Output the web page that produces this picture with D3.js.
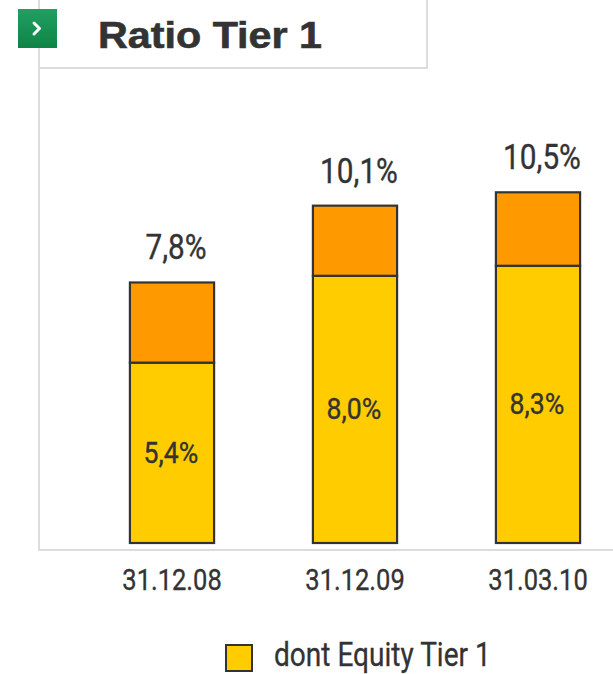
<!DOCTYPE html>
<html>
<head>
<meta charset="utf-8">
<script src="https://cdn.jsdelivr.net/npm/d3@7"></script>
<style>
  html, body { margin: 0; padding: 0; background: #fff; }
  svg { display: block; }
</style>
</head>
<body>
<svg id="chart" width="613" height="674"></svg>
<script>
// Tier 1 capital ratios, in percent
const categories = ["31.12.08", "31.12.09", "31.03.10"];
const equityTier1 = [5.4, 8.0, 8.3];   // dont Equity Tier 1
const totalTier1 = [7.8, 10.1, 10.5];  // ratio Tier 1 total
const titleText = "Ratio Tier 1";
const legendLabel = "dont Equity Tier 1";

const W = 613, H = 674;
const svg = d3.select("#chart");

// Pick a narrow face when one is installed; otherwise squeeze a regular one.
function measure(font) {
  const ctx = document.createElement("canvas").getContext("2d");
  ctx.font = font;
  return ctx.measureText("31.12.08 dont Equity").width;
}
const hasNarrow = measure("30px 'Liberation Sans Narrow', monospace") !== measure("30px monospace");
const narrowFamily = hasNarrow ? "'Liberation Sans Narrow', 'Arial Narrow', sans-serif" : "Roboto, sans-serif";
const squeeze = hasNarrow ? 1 : 0.85;
const innerSqueeze = hasNarrow ? 1 : 0.92;

const textColor = "#333333";
const frameColor = "#dcdcdc";
const orange = "#FF9900";
const yellow = "#FFCC00";
const edge = "#333333";

const fmt = v => d3.format(".1f")(v).replace(".", ",") + "%";

// Scales
const x = d3.scaleBand()
  .domain(categories)
  .range([80.5, 629.5])
  .paddingInner(0.54)
  .paddingOuter(0.27);

const y = d3.scaleLinear()
  .domain([0, 12])
  .range([543, 543 - 12 * 33.4]);

// Frame lines around the title and plot
const frame = svg.append("g").attr("stroke", frameColor).attr("stroke-width", 2).attr("fill", "none");
frame.append("line").attr("x1", 39).attr("y1", 0).attr("x2", 39).attr("y2", 550);
frame.append("line").attr("x1", 38).attr("y1", 550).attr("x2", W).attr("y2", 550);
frame.append("line").attr("x1", 39).attr("y1", 68).attr("x2", 428).attr("y2", 68);
frame.append("line").attr("x1", 427).attr("y1", 0).attr("x2", 427).attr("y2", 68);

// Title marker button
const defs = svg.append("defs");
const grad = defs.append("linearGradient").attr("id", "btnGrad")
  .attr("x1", 0).attr("y1", 0).attr("x2", 0).attr("y2", 1);
grad.append("stop").attr("offset", "0%").attr("stop-color", "#20a062");
grad.append("stop").attr("offset", "100%").attr("stop-color", "#0e8446");
svg.append("rect")
  .attr("x", 18).attr("y", 9).attr("width", 39).attr("height", 39)
  .attr("fill", "url(#btnGrad)");
svg.append("path")
  .attr("d", "M34,23 L39.5,28.5 L34,34")
  .attr("fill", "none").attr("stroke", "#ffffff")
  .attr("stroke-width", 3).attr("stroke-linecap", "round").attr("stroke-linejoin", "round");

// Title
svg.append("text")
  .attr("x", 98).attr("y", 48)
  .attr("font-family", "'Liberation Sans', Arial, sans-serif")
  .attr("font-weight", "bold")
  .attr("font-size", 36)
  .attr("textLength", 224)
  .attr("lengthAdjust", "spacingAndGlyphs")
  .attr("fill", textColor)
  .attr("stroke", textColor).attr("stroke-width", 0.6)
  .text(titleText);

// Bars
const rows = categories.map((c, i) => ({ cat: c, equity: equityTier1[i], total: totalTier1[i] }));
const bars = svg.append("g");

bars.selectAll("rect.equity")
  .data(rows).join("rect")
  .attr("class", "equity")
  .attr("x", d => x(d.cat))
  .attr("y", d => y(d.equity))
  .attr("width", x.bandwidth())
  .attr("height", d => y(0) - y(d.equity))
  .attr("fill", yellow)
  .attr("stroke", edge).attr("stroke-width", 2.2);

bars.selectAll("rect.rest")
  .data(rows).join("rect")
  .attr("class", "rest")
  .attr("x", d => x(d.cat))
  .attr("y", d => y(d.total))
  .attr("width", x.bandwidth())
  .attr("height", d => y(d.equity) - y(d.total))
  .attr("fill", orange)
  .attr("stroke", edge).attr("stroke-width", 2.2);

function narrowText(sel, size) {
  sel.attr("font-family", narrowFamily)
    .attr("font-size", size)
    .attr("fill", textColor)
    .attr("stroke", textColor).attr("stroke-width", 0.35)
    .attr("text-anchor", "middle");
}

// Total labels above bars
svg.append("g").selectAll("text")
  .data(rows).join("text")
  .attr("transform", d => `translate(${x(d.cat) + x.bandwidth() / 2 + 4},${y(d.total) - 23}) scale(${squeeze},1)`)
  .call(narrowText, 35)
  .text(d => fmt(d.total));

// Equity labels inside yellow segment
svg.append("g").selectAll("text")
  .data(rows).join("text")
  .attr("transform", d => `translate(${x(d.cat) + x.bandwidth() / 2 - 1},${(y(0) + y(d.equity)) / 2 + 10}) scale(${innerSqueeze},1)`)
  .call(narrowText, 29)
  .text(d => fmt(d.equity));

// Category labels
svg.append("g").selectAll("text")
  .data(categories).join("text")
  .attr("transform", d => `translate(${x(d) + x.bandwidth() / 2},590) scale(${squeeze},1)`)
  .call(narrowText, 30)
  .text(d => d);

// Legend
const legend = svg.append("g");
legend.append("rect")
  .attr("x", 226).attr("y", 645).attr("width", 26).attr("height", 26)
  .attr("fill", yellow).attr("stroke", edge).attr("stroke-width", 2);
legend.append("text")
  .attr("transform", `translate(274,666) scale(${squeeze},1)`)
  .attr("font-family", narrowFamily)
  .attr("font-size", 33)
  .attr("fill", textColor)
  .attr("stroke", textColor).attr("stroke-width", 0.3)
  .text(legendLabel);
</script>
</body>
</html>
